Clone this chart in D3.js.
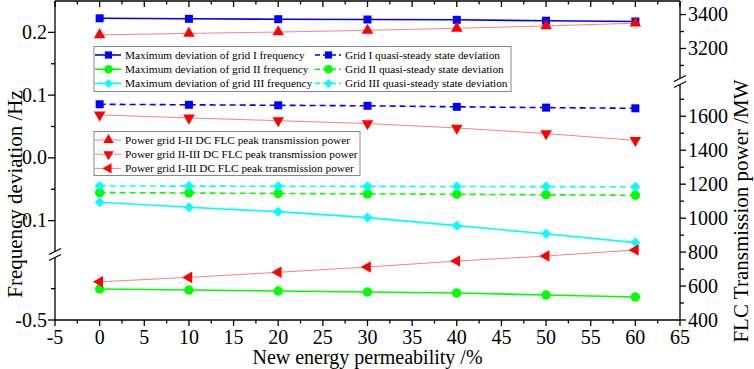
<!DOCTYPE html>
<html><head><meta charset="utf-8">
<script src="https://cdn.jsdelivr.net/npm/d3@7"></script>
<style>body{margin:0;background:#fff}svg{display:block}text{font-family:"Liberation Serif","Times New Roman",serif}</style>
</head><body><svg id="c" width="754" height="369"></svg>
<script>
// ---------- data ----------
const permeability = [0, 10, 20, 30, 40, 50, 60];
const maxDevGrid1 = [0.2224, 0.2216, 0.2210, 0.2205, 0.2200, 0.2186, 0.2173];
const maxDevGrid2 = [-0.4506, -0.4522, -0.4538, -0.4553, -0.4569, -0.4601, -0.4633];
const maxDevGrid3 = [-0.0708, -0.0788, -0.0857, -0.0952, -0.1080, -0.1210, -0.1350];
const quasiGrid1 = [0.0854, 0.0846, 0.0838, 0.0830, 0.0814, 0.0801, 0.0790];
const quasiGrid2 = [-0.0553, -0.0560, -0.0567, -0.0574, -0.0580, -0.0588, -0.0596];
const quasiGrid3 = [-0.0448, -0.0450, -0.0452, -0.0454, -0.0456, -0.0458, -0.0460];
const peakI_II = [3280, 3289, 3297, 3307, 3319, 3333, 3349];
const peakII_III = [1608, 1590, 1574, 1557, 1531, 1498, 1458];
const peakI_III = [625, 651, 681, 712, 747, 777, 812];

const xTicks = [-5, 0, 5, 10, 15, 20, 25, 30, 35, 40, 45, 50, 55, 60, 65];
const leftTickLabels = ["-0.5", "-0.1", "0.0", "0.1", "0.2"];
const leftTickValues = [-0.5, -0.1, 0.0, 0.1, 0.2];
const rightTickValues = [400, 600, 800, 1000, 1200, 1400, 1600, 3200, 3400];
const legendNames1 = ["Maximum deviation of grid I frequency", "Maximum deviation of grid II frequency", "Maximum deviation of grid III frequency"];
const legendNames1b = ["Grid I quasi-steady state deviation", "Grid II quasi-steady state deviation", "Grid III quasi-steady state deviation"];
const legendNames2 = ["Power grid I-II DC FLC peak transmission power", "Power grid II-III DC FLC peak transmission power", "Power grid I-III DC FLC peak transmission power"];

// ---------- layout ----------
const L = 55, R = 680, T = 1, B = 320;
const svg = d3.select("#c");
const x = d3.scaleLinear().domain([-5, 65]).range([L, R]);
// broken axes as piecewise-linear scales
const yL = d3.scaleLinear().domain([-0.5, -0.4, -0.15, 0.25]).range([B, 257.3, 252, T]);
const yR = d3.scaleLinear().domain([400, 1790, 3020, 3480]).range([B, 84, 79, T]);

const BLUE = "#0000ff", GREEN = "#00ff00", CYAN = "#00ffff", RED = "#ff0000", PINK = "#ff8080";

const sq = d3.symbol().type(d3.symbolSquare).size(64)();
const circ = d3.symbol().type(d3.symbolCircle).size(70)();
const diam = d3.symbol().type(d3.symbolSquare).size(50)();
const tri = d3.symbol().type(d3.symbolTriangle).size(58)();

const series = [
  {v: maxDevGrid1, y: yL, color: BLUE, line: BLUE, dash: null, shape: sq, rot: 0},
  {v: maxDevGrid2, y: yL, color: GREEN, line: GREEN, dash: null, shape: circ, rot: 0},
  {v: maxDevGrid3, y: yL, color: CYAN, line: CYAN, dash: null, shape: diam, rot: 45},
  {v: quasiGrid1, y: yL, color: BLUE, line: BLUE, dash: "6,4", shape: sq, rot: 0},
  {v: quasiGrid2, y: yL, color: GREEN, line: GREEN, dash: "6,4", shape: circ, rot: 0},
  {v: quasiGrid3, y: yL, color: CYAN, line: CYAN, dash: "6,4", shape: diam, rot: 45},
  {v: peakI_II, y: yR, color: RED, line: PINK, dash: null, shape: tri, rot: 0, w: 1},
  {v: peakII_III, y: yR, color: RED, line: PINK, dash: null, shape: tri, rot: 180, w: 1},
  {v: peakI_III, y: yR, color: RED, line: PINK, dash: null, shape: tri, rot: -90, w: 1},
];

const gData = svg.append("g");
series.forEach(s => {
  const pts = permeability.map((p, i) => [x(p), s.y(s.v[i])]);
  gData.append("path").attr("d", d3.line()(pts)).attr("fill", "none")
    .attr("stroke", s.line).attr("stroke-width", s.w || 1.6)
    .attr("stroke-dasharray", s.dash);
});
series.forEach(s => {
  permeability.forEach((p, i) => {
    gData.append("path").attr("d", s.shape).attr("fill", s.color)
      .attr("transform", `translate(${x(p)},${s.y(s.v[i])}) rotate(${s.rot})`);
  });
});

// ---------- axes ----------
const ax = svg.append("g").attr("stroke", "#000").attr("stroke-width", 1.3).attr("fill", "none");
ax.append("line").attr("x1", L).attr("x2", R).attr("y1", B).attr("y2", B);
ax.append("line").attr("x1", L).attr("x2", R).attr("y1", T).attr("y2", T);
ax.append("line").attr("x1", L).attr("x2", L).attr("y1", T).attr("y2", B);
ax.append("line").attr("x1", R).attr("x2", R).attr("y1", T).attr("y2", B);

const tickFont = 20;
// x ticks
xTicks.forEach(t => {
  ax.append("line").attr("x1", x(t)).attr("x2", x(t)).attr("y1", B).attr("y2", B + 6);
  ax.append("line").attr("x1", x(t)).attr("x2", x(t)).attr("y1", T).attr("y2", T + 6);
  svg.append("text").attr("x", x(t)).attr("y", B + 24).attr("text-anchor", "middle")
    .attr("font-size", tickFont).text(t);
});
d3.range(-2.5, 65, 5).forEach(t => {
  ax.append("line").attr("x1", x(t)).attr("x2", x(t)).attr("y1", B).attr("y2", B + 3.5);
  ax.append("line").attr("x1", x(t)).attr("x2", x(t)).attr("y1", T).attr("y2", T + 3.5);
});
// left ticks
leftTickValues.forEach((t, i) => {
  ax.append("line").attr("x1", L - 7).attr("x2", L).attr("y1", yL(t)).attr("y2", yL(t));
  svg.append("text").attr("x", L - 8).attr("y", yL(t) + 6.5).attr("text-anchor", "end")
    .attr("font-size", tickFont).text(leftTickLabels[i]);
});
[-0.45, -0.05, 0.05, 0.15].forEach(t => {
  ax.append("line").attr("x1", L - 4).attr("x2", L).attr("y1", yL(t)).attr("y2", yL(t));
});
// right ticks
rightTickValues.forEach(t => {
  ax.append("line").attr("x1", R).attr("x2", R + 6).attr("y1", yR(t)).attr("y2", yR(t));
  svg.append("text").attr("x", R + 8).attr("y", yR(t) + 6.5).attr("text-anchor", "start")
    .attr("font-size", tickFont).text(t);
});
[500, 700, 900, 1100, 1300, 1500, 1700, 3100, 3300].forEach(t => {
  ax.append("line").attr("x1", R).attr("x2", R + 4).attr("y1", yR(t)).attr("y2", yR(t));
});
// break marks
function brk(cx, cy) {
  svg.append("rect").attr("x", cx - 3).attr("y", cy - 3).attr("width", 6).attr("height", 6).attr("fill", "#fff");
  [-3, 3].forEach(d => svg.append("line").attr("x1", cx - 6).attr("x2", cx + 6)
    .attr("y1", cy + d + 3).attr("y2", cy + d - 3).attr("stroke", "#000").attr("stroke-width", 1.2));
}
brk(L, 254.5);
brk(R, 81.5);

// titles
svg.append("text").attr("x", (L + R) / 2).attr("y", 364).attr("text-anchor", "middle")
  .attr("font-size", 20).text("New energy permeability /%");
svg.append("text").attr("transform", "translate(22,194) rotate(-90)").attr("text-anchor", "middle")
  .attr("font-size", 21).text("Frequency deviation /Hz");
svg.append("text").attr("transform", "translate(748,211) rotate(-90)").attr("text-anchor", "middle")
  .attr("font-size", 21).text("FLC Transmission power /MW");

// ---------- legends ----------
const legFont = 11.3;
function legendItem(g, lx, ly, s, name) {
  g.append("line").attr("x1", lx).attr("x2", lx + 26).attr("y1", ly).attr("y2", ly)
    .attr("stroke", s.line).attr("stroke-width", s.w || 1.6).attr("stroke-dasharray", s.dash ? "5,3" : null);
  g.append("path").attr("d", s.shape).attr("fill", s.color)
    .attr("transform", `translate(${lx + 13.5},${ly}) rotate(${s.rot}) scale(0.9)`);
  g.append("text").attr("x", lx + 30).attr("y", ly + 4).attr("font-size", legFont).text(name);
}
const lg1 = svg.append("g");
lg1.append("rect").attr("x", 94).attr("y", 46.5).attr("width", 417).attr("height", 45)
  .attr("fill", "#fff").attr("stroke", "#888").attr("stroke-width", 1);
legendNames1.forEach((n, i) => legendItem(lg1, 95, 55 + i * 14.2, series[i], n));
legendNames1b.forEach((n, i) => legendItem(lg1, 315, 55 + i * 14.2, series[i + 3], n));
const lg2 = svg.append("g");
lg2.append("rect").attr("x", 94).attr("y", 131.5).attr("width", 266).attr("height", 44)
  .attr("fill", "#fff").attr("stroke", "#888").attr("stroke-width", 1);
legendNames2.forEach((n, i) => legendItem(lg2, 95, 140 + i * 14.2, series[i + 6], n));
</script></body></html>
